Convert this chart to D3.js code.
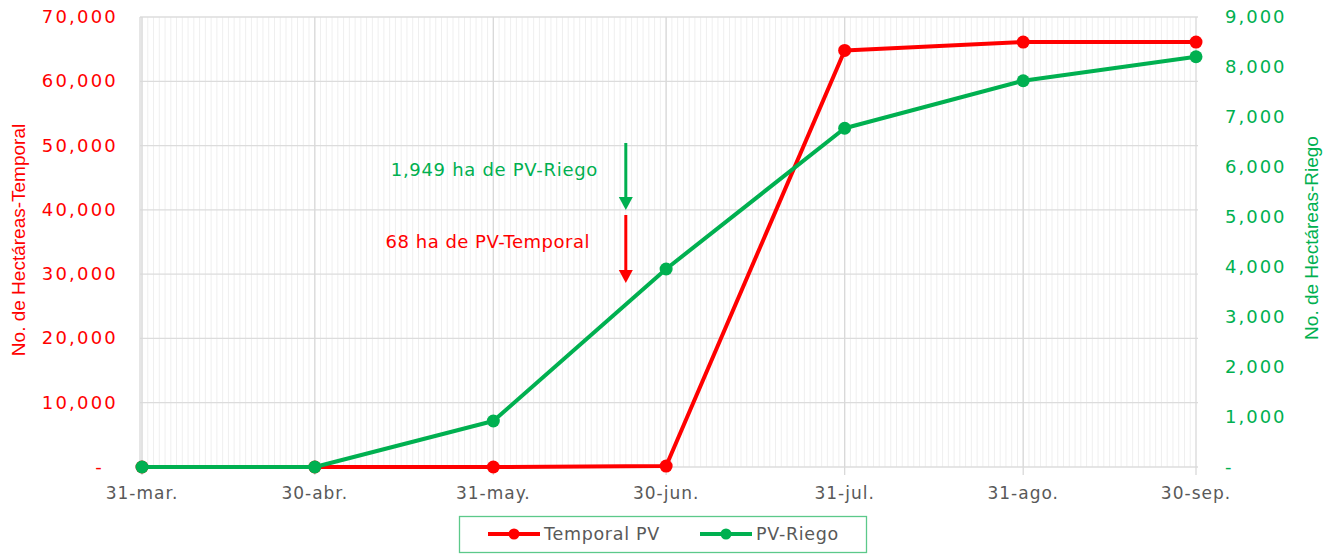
<!DOCTYPE html>
<html>
<head>
<meta charset="utf-8">
<script src="https://cdn.jsdelivr.net/npm/d3@7"></script>
<style>
  body { margin: 0; background: #fff; }
  svg text { font-family: "DejaVu Sans", sans-serif; }
</style>
</head>
<body>
<div id="chart"></div>
<script>
// fechas de corte y avance acumulado
const dates = ['2021-03-31', '2021-04-30', '2021-05-31', '2021-06-30', '2021-07-31', '2021-08-31', '2021-09-30'];
const tickLabels = ['31-mar.', '30-abr.', '31-may.', '30-jun.', '31-jul.', '31-ago.', '30-sep.'];
const temporal = [0, 0, 0, 150, 64800, 66100, 66100];
const riego = [0, 0, 920, 3960, 6775, 7725, 8205];
const leftTicks = [0, 10000, 20000, 30000, 40000, 50000, 60000, 70000];
const rightTicks = [0, 1000, 2000, 3000, 4000, 5000, 6000, 7000, 8000, 9000];

const width = 1333, height = 556;
const RED = '#ff0000', GREEN = '#00b050';
const parse = d3.timeParse('%Y-%m-%d');
const days = dates.map(parse);

const svg = d3.select('#chart').append('svg')
  .attr('width', width)
  .attr('height', height);

const x = d3.scaleTime().domain([days[0], days[days.length - 1]]).range([142, 1196]);
const yL = d3.scaleLinear().domain([0, 70000]).range([467, 17]);
const yR = d3.scaleLinear().domain([0, 9000]).range([467, 17]);
const fmt = v => v === 0 ? '-' : d3.format(',')(v);

// rejilla diaria
const grid = svg.append('g');
grid.selectAll('line.minor')
  .data(d3.timeDay.range(days[0], days[days.length - 1]))
  .enter().append('line')
  .attr('x1', d => x(d)).attr('x2', d => x(d))
  .attr('y1', 17).attr('y2', 467)
  .attr('stroke', '#efefef').attr('stroke-width', 1);

grid.selectAll('line.h')
  .data(leftTicks)
  .enter().append('line')
  .attr('x1', 140).attr('x2', 1198)
  .attr('y1', d => yL(d)).attr('y2', d => yL(d))
  .attr('stroke', '#dcdcdc').attr('stroke-width', 1.3);

grid.selectAll('line.major')
  .data(days)
  .enter().append('line')
  .attr('x1', d => x(d)).attr('x2', d => x(d))
  .attr('y1', 17).attr('y2', 475)
  .attr('stroke', '#d9d9d9').attr('stroke-width', 1.3);

grid.append('line')
  .attr('x1', 140).attr('x2', 140).attr('y1', 17).attr('y2', 467)
  .attr('stroke', '#d9d9d9').attr('stroke-width', 1.3);

// ejes
svg.append('g').selectAll('text')
  .data(leftTicks)
  .enter().append('text')
  .attr('x', d => d === 0 ? 104 : 118).attr('y', d => yL(d) + 6)
  .attr('text-anchor', 'end')
  .attr('fill', RED).attr('font-size', 18)
  .attr('letter-spacing', 2.2)
  .text(fmt);

svg.append('g').selectAll('text')
  .data(rightTicks)
  .enter().append('text')
  .attr('x', 1225).attr('y', d => yR(d) + 6)
  .attr('fill', GREEN).attr('font-size', 18)
  .attr('letter-spacing', 2)
  .text(fmt);

svg.append('g').selectAll('text')
  .data(days)
  .enter().append('text')
  .attr('x', d => x(d)).attr('y', 499)
  .attr('text-anchor', 'middle')
  .attr('fill', '#595959').attr('font-size', 17)
  .attr('letter-spacing', 1)
  .text((d, i) => tickLabels[i]);

svg.append('text')
  .attr('transform', 'translate(25,240) rotate(-90)')
  .attr('text-anchor', 'middle')
  .attr('fill', RED).attr('font-size', 19)
  .style('font-family', '"Liberation Sans", Arial, sans-serif')
  .text('No. de Hectáreas-Temporal');

svg.append('text')
  .attr('transform', 'translate(1318,238) rotate(-90)')
  .attr('text-anchor', 'middle')
  .attr('fill', GREEN).attr('font-size', 19)
  .style('font-family', '"Liberation Sans", Arial, sans-serif')
  .text('No. de Hectáreas-Riego');

// series
const series = [
  { name: 'Temporal PV', values: temporal, y: yL, color: RED },
  { name: 'PV-Riego', values: riego, y: yR, color: GREEN }
];

series.forEach(s => {
  const line = d3.line().x((d, i) => x(days[i])).y(d => s.y(d));
  svg.append('path')
    .attr('d', line(s.values))
    .attr('fill', 'none')
    .attr('stroke', s.color)
    .attr('stroke-width', 4)
    .attr('stroke-linejoin', 'round');
  svg.append('g').selectAll('circle')
    .data(s.values)
    .enter().append('circle')
    .attr('cx', (d, i) => x(days[i]))
    .attr('cy', d => s.y(d))
    .attr('r', 6.5)
    .attr('fill', s.color);
});

// anotaciones
const ax = x(parse('2021-06-23'));
const arrow = (y1, y2, color) => {
  svg.append('line')
    .attr('x1', ax).attr('x2', ax).attr('y1', y1).attr('y2', y2 - 12)
    .attr('stroke', color).attr('stroke-width', 3);
  svg.append('path')
    .attr('d', `M${ax - 7},${y2 - 13}L${ax + 7},${y2 - 13}L${ax},${y2}Z`)
    .attr('fill', color);
};
arrow(143, 210, GREEN);
arrow(215, 283, RED);

svg.append('text')
  .attr('x', 598).attr('y', 176)
  .attr('text-anchor', 'end')
  .attr('fill', GREEN).attr('font-size', 18)
  .attr('letter-spacing', 0.7)
  .text('1,949 ha de PV-Riego');

svg.append('text')
  .attr('x', 590).attr('y', 248)
  .attr('text-anchor', 'end')
  .attr('fill', RED).attr('font-size', 18)
  .attr('letter-spacing', 0.5)
  .text('68 ha de PV-Temporal');

// leyenda
const legend = svg.append('g');
legend.append('rect')
  .attr('x', 459.5).attr('y', 516.5).attr('width', 407).attr('height', 36)
  .attr('fill', '#fff').attr('stroke', '#5cc98a').attr('stroke-width', 1.3);

const legendX = [488, 700];
series.forEach((s, i) => {
  const lx = legendX[i];
  legend.append('line')
    .attr('x1', lx).attr('x2', lx + 52).attr('y1', 534).attr('y2', 534)
    .attr('stroke', s.color).attr('stroke-width', 4);
  legend.append('circle')
    .attr('cx', lx + 26).attr('cy', 534).attr('r', 5.5)
    .attr('fill', s.color);
  legend.append('text')
    .attr('x', lx + 56).attr('y', 540)
    .attr('fill', '#595959').attr('font-size', 17.5)
    .attr('letter-spacing', 0.7)
    .text(s.name);
});
</script>
</body>
</html>
